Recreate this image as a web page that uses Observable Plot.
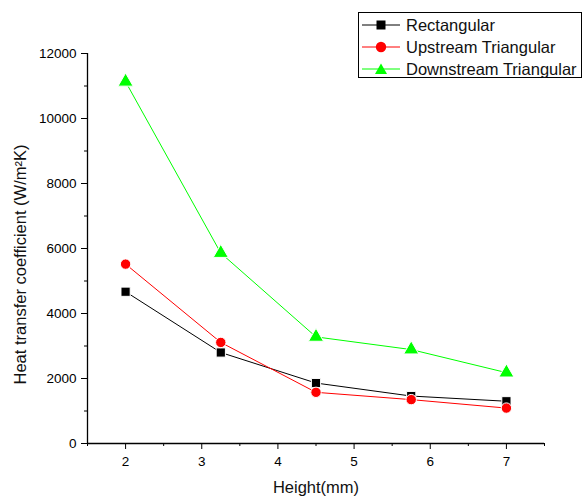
<!DOCTYPE html>
<html>
<head>
<meta charset="utf-8">
<script src="https://cdn.jsdelivr.net/npm/d3@7"></script>
<script src="https://cdn.jsdelivr.net/npm/@observablehq/plot@0.6"></script>
<style>
  body { margin: 0; background: #fff; font-family: "Liberation Sans", Arial, sans-serif; }
  #wrap { position: relative; width: 585px; height: 498px; }
  #legend { position: absolute; left: 358px; top: 12px; width: 222px; height: 64px; border: 1px solid #000; background: #fff; box-sizing: content-box; }
  .row { position: absolute; left: 2px; height: 20px; display: flex; align-items: center; font-size: 16.5px; color: #111; white-space: nowrap; }
  .row svg { margin-right: 5px; }
</style>
</head>
<body>
<div id="wrap"><div id="chart"></div><div id="legend"></div></div>
<script>
const heights = [2, 3.25, 4.5, 5.75, 7];
const rectangular = [4670, 2800, 1860, 1460, 1300];
const upstream = [5520, 3110, 1575, 1350, 1090];
const downstream = [11130, 5860, 3280, 2890, 2180];
const seriesNames = ["Rectangular", "Upstream Triangular", "Downstream Triangular"];
const seriesColors = ["#000000", "#ff0000", "#00ff00"];
const seriesSymbols = ["square", "circle", "triangle"];
const xTicks = [2, 3, 4, 5, 6, 7];
const xMinor = [1.5, 2.5, 3.5, 4.5, 5.5, 6.5, 7.5];
const yTicks = [0, 2000, 4000, 6000, 8000, 10000, 12000];
const yMinor = [1000, 3000, 5000, 7000, 9000, 11000];
const yLabel = "Heat transfer coefficient (W/m\u00B2K)";
const xLabel = "Height(mm)";

const values = [rectangular, upstream, downstream];
const data = [];
values.forEach((arr, s) => arr.forEach((v, i) => data.push({series: seriesNames[s], x: heights[i], y: v})));

const font = "Liberation Sans, Arial, sans-serif";
const marks = [];
seriesNames.forEach((name, s) => {
  const d = data.filter(r => r.series === name);
  marks.push(Plot.line(d, {x: "x", y: "y", stroke: seriesColors[s], strokeWidth: 1}));
});
seriesNames.forEach((name, s) => {
  const d = data.filter(r => r.series === name);
  marks.push(Plot.dot(d, {x: "x", y: "y", symbol: () => seriesSymbols[s], fill: seriesColors[s], stroke: "#fff", strokeWidth: 1, r: s === 2 ? 5.6 : 5.2}));
});

const chart = Plot.plot({
  width: 585,
  height: 498,
  marginLeft: 87,
  marginRight: 41,
  marginTop: 53,
  marginBottom: 55,
  style: {fontFamily: font, background: "#fff", overflow: "visible"},
  x: {domain: [1.5, 7.5]},
  y: {domain: [0, 12000]},
  symbol: {type: "identity"},
  marks: [
    Plot.axisX(xTicks, {tickSize: 6, tickPadding: 7, fontSize: 13.5, label: null, stroke: "#000", color: "#000", tickFormat: d => String(d)}),
    Plot.axisX(xMinor, {tickSize: 3, text: null, label: null, stroke: "#000"}),
    Plot.axisY(yTicks, {tickSize: 6, tickPadding: 5, fontSize: 13.5, label: null, stroke: "#000", color: "#000", tickFormat: d => String(d)}),
    Plot.axisY(yMinor, {tickSize: 3, text: null, label: null, stroke: "#000"}),
    Plot.ruleY([0], {stroke: "#000", strokeWidth: 1.3}),
    Plot.ruleX([1.5], {stroke: "#000", strokeWidth: 1.3}),
    Plot.text([xLabel], {frameAnchor: "bottom", textAnchor: "middle", dy: 49, fontSize: 16.5, fill: "#111"}),
    Plot.text([yLabel], {frameAnchor: "left", textAnchor: "middle", dx: -67, dy: 16, rotate: -90, fontSize: 16.5, fill: "#111"}),
    ...marks
  ]
});
document.getElementById("chart").appendChild(chart);

const legend = document.getElementById("legend");
const symPaths = {
  square: "M-4.5,-4.5h9v9h-9z",
  triangle: "M0,-5.5L6,5L-6,5z"
};
seriesNames.forEach((name, s) => {
  const row = document.createElement("div");
  row.className = "row";
  row.style.top = (2 + s * 22) + "px";
  const c = seriesColors[s];
  const shape = seriesSymbols[s] === "circle"
    ? `<circle cx="20" cy="10" r="5.2" fill="${c}"/>`
    : `<path transform="translate(20,10)" d="${symPaths[seriesSymbols[s]]}" fill="${c}"/>`;
  row.innerHTML = `<svg width="40" height="20"><line x1="1" x2="39" y1="10" y2="10" stroke="${c}" stroke-width="1"/>${shape}</svg><span>${name}</span>`;
  legend.appendChild(row);
});
</script>
</body>
</html>
